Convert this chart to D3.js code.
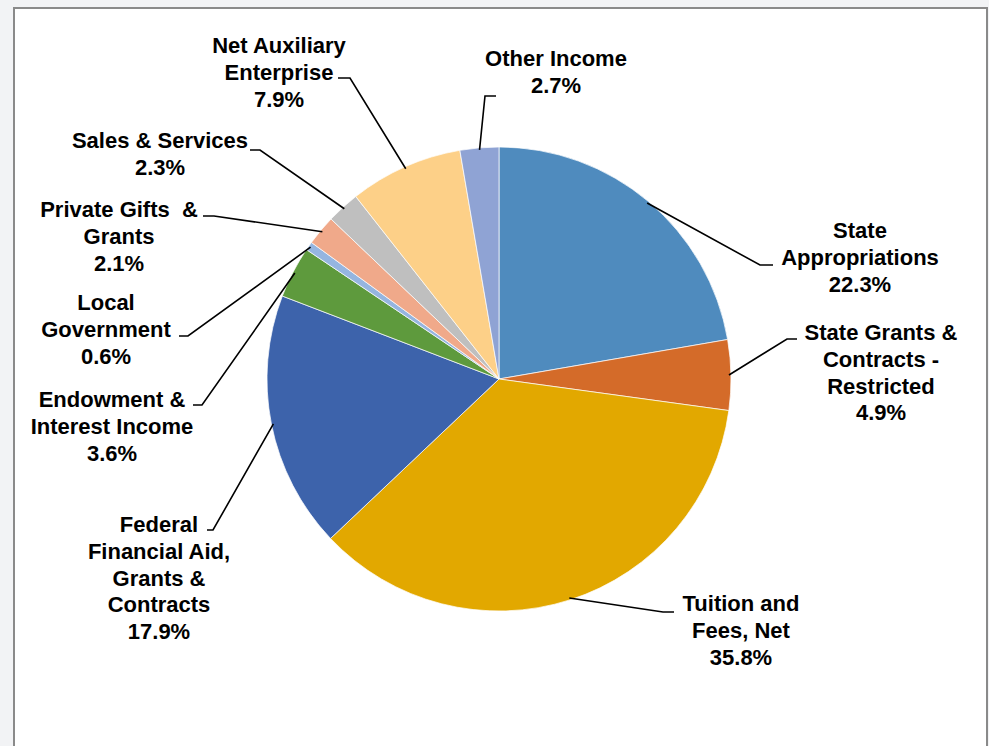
<!DOCTYPE html>
<html>
<head>
<meta charset="utf-8">
<script src="https://unpkg.com/d3@7/dist/d3.min.js"></script>
<style>
  html, body { margin: 0; padding: 0; background: #f2f3f5; overflow: hidden; }
  svg { display: block; }
</style>
</head>
<body>
<div id="chart"></div>
<script>
// slices, clockwise from 12 o'clock
const names = [
  ["State", "Appropriations"],
  ["State Grants &", "Contracts -", "Restricted"],
  ["Tuition and", "Fees, Net"],
  ["Federal", "Financial Aid,", "Grants &", "Contracts"],
  ["Endowment &", "Interest Income"],
  ["Local", "Government"],
  ["Private Gifts  &", "Grants"],
  ["Sales & Services"],
  ["Net Auxiliary", "Enterprise"],
  ["Other Income"]
];
const values = [22.3, 4.9, 35.8, 17.9, 3.6, 0.6, 2.1, 2.3, 7.9, 2.7];
const colors = ["#4f8bbe", "#d46b29", "#e2a800", "#3d63ab", "#5e9a3d",
                "#95b5e0", "#f0a98a", "#bfbfbf", "#fdd088", "#8fa3d4"];

// label layout: text centre x, first baseline y, elbow x/y, end x of leader
const layout = [
  {x: 860, y: 238, ex: 760, ey: 265, end: 773},
  {x: 881, y: 340, ex: 787, ey: 339, end: 797},
  {x: 741, y: 611, ex: 663, ey: 612, end: 674},
  {x: 159, y: 532, ex: 213, ey: 530, end: 207},
  {x: 112, y: 407, ex: 202, ey: 405, end: 193},
  {x: 106, y: 310, ex: 188, ey: 336, end: 179},
  {x: 119, y: 217, ex: 214, ey: 216, end: 203},
  {x: 160, y: 148, ex: 260, ey: 150, end: 250},
  {x: 279, y: 53, ex: 350, ey: 78, end: 338},
  {x: 556, y: 66, ex: 485, ey: 96, end: 496}
];

const W = 989, H = 746;
const cx = 499, cy = 379, radius = 232;
const lineH = 26.8;

const svg = d3.select("#chart").append("svg")
  .attr("width", W)
  .attr("height", H);

svg.append("rect")
  .attr("x", 14).attr("y", 8)
  .attr("width", 973).attr("height", 780)
  .attr("fill", "#fff")
  .attr("stroke", "#8a8a8a")
  .attr("stroke-width", 2);

const data = values.map((v, i) => ({name: names[i], value: v, color: colors[i], pos: layout[i]}));

const pie = d3.pie().sort(null).value(d => d.value);
const arc = d3.arc().innerRadius(0).outerRadius(radius);
const edge = d3.arc().innerRadius(radius - 2).outerRadius(radius - 2);

const g = svg.append("g").attr("transform", `translate(${cx}, ${cy})`);
const arcs = pie(data);

g.selectAll("path.slice")
  .data(arcs)
  .join("path")
  .attr("class", "slice")
  .attr("d", arc)
  .attr("fill", d => d.data.color)
  .attr("stroke", "#fff")
  .attr("stroke-width", 0.7);

// leader lines
svg.selectAll("path.leader")
  .data(arcs)
  .join("path")
  .attr("class", "leader")
  .attr("fill", "none")
  .attr("stroke", "#000")
  .attr("stroke-width", 1.6)
  .attr("d", d => {
    const c = edge.centroid(d);
    const p = d.data.pos;
    return `M${cx + c[0]},${cy + c[1]}L${p.ex},${p.ey}L${p.end},${p.ey}`;
  });

// labels
const labels = svg.selectAll("text.label")
  .data(arcs)
  .join("text")
  .attr("class", "label")
  .attr("text-anchor", "middle")
  .attr("font-family", "'Liberation Sans', Arial, sans-serif")
  .attr("font-weight", "bold")
  .attr("font-size", 22)
  .attr("fill", "#000")
  .style("white-space", "pre");

labels.each(function(d) {
  const lines = d.data.name.concat([d.data.value.toFixed(1) + "%"]);
  d3.select(this).selectAll("tspan")
    .data(lines)
    .join("tspan")
    .attr("x", d.data.pos.x)
    .attr("y", (l, i) => d.data.pos.y + i * lineH)
    .text(l => l);
});
</script>
</body>
</html>
